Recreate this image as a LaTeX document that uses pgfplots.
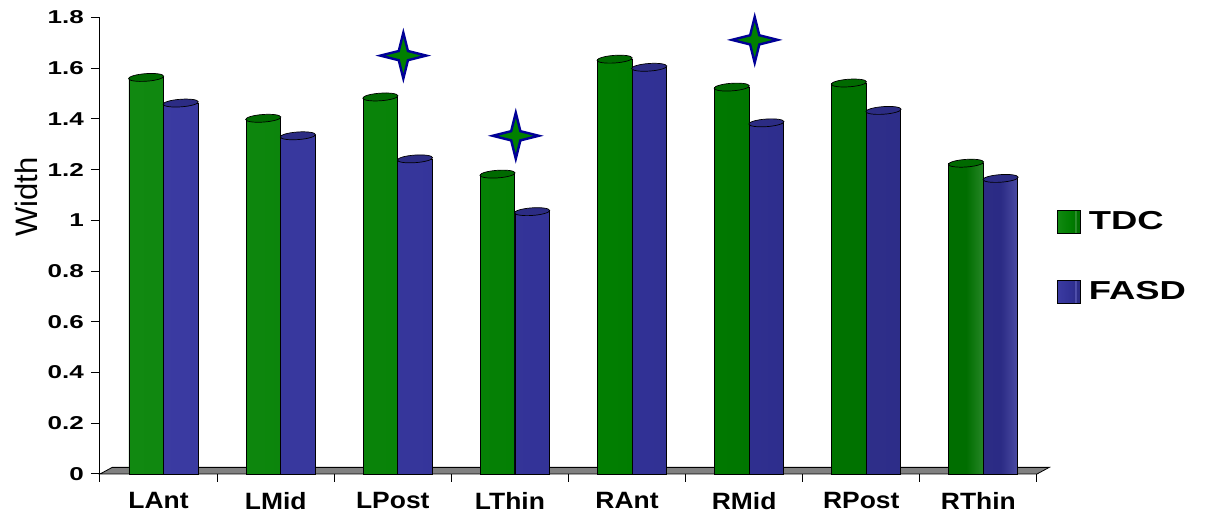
\documentclass[border=0pt]{standalone}
\usepackage{pgfplots}
\pgfplotsset{compat=1.18}
\usepackage{pgfplotstable}
\usepackage{graphicx}
\usepackage{fontspec}
\setmainfont{Liberation Sans}
\usetikzlibrary{shapes.geometric}

\definecolor{tdcgreen}{RGB}{0,128,0}
\definecolor{tdctop}{RGB}{0,106,0}
\definecolor{fasdblue}{RGB}{51,51,153}
\definecolor{fasdtop}{RGB}{44,44,132}
\definecolor{starblue}{RGB}{0,0,150}
\definecolor{floorgray}{RGB}{128,128,128}

% cylinder-like shadings with faint highlight stripes
\pgfdeclarehorizontalshading{cylgreen}{100bp}{%
  rgb(0bp)=(0,0.36,0); rgb(3bp)=(0,0.50,0); rgb(10bp)=(0.1,0.56,0.1);
  rgb(55bp)=(0,0.49,0); rgb(62bp)=(0,0.46,0); rgb(64bp)=(0.35,0.66,0.35);
  rgb(66bp)=(0,0.45,0); rgb(74bp)=(0,0.43,0); rgb(76bp)=(0.3,0.62,0.3);
  rgb(78bp)=(0,0.42,0); rgb(84bp)=(0,0.40,0); rgb(86bp)=(0.25,0.55,0.25);
  rgb(88bp)=(0,0.37,0); rgb(100bp)=(0,0.30,0)}
\pgfdeclarehorizontalshading{cylblue}{100bp}{%
  rgb(0bp)=(0.14,0.14,0.45); rgb(3bp)=(0.22,0.22,0.62); rgb(10bp)=(0.25,0.25,0.66);
  rgb(55bp)=(0.19,0.19,0.58); rgb(62bp)=(0.18,0.18,0.55); rgb(64bp)=(0.45,0.45,0.8);
  rgb(66bp)=(0.18,0.18,0.54); rgb(74bp)=(0.17,0.17,0.52); rgb(76bp)=(0.42,0.42,0.76);
  rgb(78bp)=(0.16,0.16,0.50); rgb(84bp)=(0.15,0.15,0.48); rgb(86bp)=(0.38,0.38,0.7);
  rgb(88bp)=(0.14,0.14,0.45); rgb(100bp)=(0.11,0.11,0.38)}

% four-pointed star used to flag significant differences
\pgfdeclareplotmark{star4}{%
  \pgfpathmoveto{\pgfpoint{0pt}{\pgfplotmarksize}}%
  \pgfpathlineto{\pgfpoint{0.2\pgfplotmarksize}{0.2\pgfplotmarksize}}%
  \pgfpathlineto{\pgfpoint{\pgfplotmarksize}{0pt}}%
  \pgfpathlineto{\pgfpoint{0.2\pgfplotmarksize}{-0.2\pgfplotmarksize}}%
  \pgfpathlineto{\pgfpoint{0pt}{-\pgfplotmarksize}}%
  \pgfpathlineto{\pgfpoint{-0.2\pgfplotmarksize}{-0.2\pgfplotmarksize}}%
  \pgfpathlineto{\pgfpoint{-\pgfplotmarksize}{0pt}}%
  \pgfpathlineto{\pgfpoint{-0.2\pgfplotmarksize}{0.2\pgfplotmarksize}}%
  \pgfpathclose
  \pgfusepathqfillstroke}

\newcommand{\wide}[2]{\scalebox{#1}[1]{#2}}

\pgfplotstableread{
x tdc   fasd
0 1.563 1.462
1 1.402 1.333
2 1.486 1.242
3 1.182 1.034
4 1.635 1.603
5 1.525 1.384
6 1.541 1.433
7 1.225 1.165
}\widthdata

\pgfplotstableread{
x    y
2.09 1.649
3.05 1.333
5.09 1.711
}\stardata

\begin{document}
\begin{tikzpicture}
\useasboundingbox (-50pt,-20pt) rectangle (555.5pt,237pt);
\begin{axis}[
  at={(0pt,0pt)}, anchor=south west, scale only axis,
  width=468.5pt, height=228.35pt,
  xmin=-0.5, xmax=7.5, ymin=0, ymax=1.8,
  clip=false,
  axis x line*=bottom, axis y line*=left,
  axis line style={line width=0.5pt},
  tick align=outside,
  major tick length=4.5pt, minor tick length=3.8pt,
  tick style={black, line width=0.5pt},
  ytick={0,0.2,0.4,0.6,0.8,1,1.2,1.4,1.6,1.8},
  xtick={0,1,2,3,4,5,6,7},
  xticklabels={\wide{1.12}{LAnt},\wide{1.12}{LMid},\wide{1.12}{LPost},\wide{1.12}{LThin},
    \wide{1.12}{RAnt},\wide{1.12}{RMid},\wide{1.12}{RPost},\wide{1.12}{RThin}},
  minor xtick={-0.5,0.5,1.5,2.5,3.5,4.5,5.5,6.5,7.5},
  major x tick style={draw=none},
  /pgf/number format/assume math mode=true,
  yticklabel={\wide{1.4}{\pgfmathprintnumber{\tick}}},
  yticklabel style={font=\bfseries\fontsize{9.3}{11}\selectfont},
  xticklabel style={font=\bfseries\fontsize{11.8}{14}\selectfont, inner sep=0pt, yshift=-4.5pt},
  ylabel={Width},
  every axis y label/.style={at={(axis description cs:-0.078,0.606)}, rotate=90, anchor=center},
  ylabel style={font=\fontsize{15.5}{18}\selectfont},
  legend style={at={(rel axis cs:1.021,0.585)}, anchor=north west,
    draw=none, fill=none, inner sep=0pt,
    font=\bfseries\fontsize{13}{15}\selectfont,
    row sep=20.5pt, /tikz/column sep=2pt},
  legend cell align=left,
]
% grey floor of the chart
\fill[floorgray, draw=black, line width=0.4pt]
  (axis cs:-0.5,0) -- (axis cs:7.5,0)
  -- ([shift={(6.1pt,3.3pt)}]axis cs:7.5,0)
  -- ([shift={(6.1pt,3.3pt)}]axis cs:-0.5,0) -- cycle;

\addplot[ybar, bar width=17.2pt, bar shift=-6.2pt,
  draw=black, line width=0.35pt, shading=cylgreen,
  nodes near coords={},
  every node near coord/.append style={shape=ellipse, draw=black, fill=tdctop,
    line width=0.35pt, minimum width=17.6pt, minimum height=3.8pt,
    inner sep=0pt, anchor=center, xshift=-6.2pt, rotate=4},
  legend image code/.code={\draw[fill=tdcgreen, draw=black, line width=0.4pt] (0pt,-5.75pt) rectangle (11.5pt,5.75pt);}]
  table[x=x, y=tdc] {\widthdata};
\addlegendentry{\wide{1.4}{TDC}}

\addplot[ybar, bar width=17.2pt, bar shift=11.1pt,
  draw=black, line width=0.35pt, shading=cylblue,
  nodes near coords={},
  every node near coord/.append style={shape=ellipse, draw=black, fill=fasdtop,
    line width=0.35pt, minimum width=17.6pt, minimum height=3.8pt,
    inner sep=0pt, anchor=center, xshift=11.1pt, rotate=4},
  legend image code/.code={\draw[fill=fasdblue, draw=black, line width=0.4pt] (0pt,-5.75pt) rectangle (11.5pt,5.75pt);}]
  table[x=x, y=fasd] {\widthdata};
\addlegendentry{\wide{1.4}{FASD}}

% significance stars
\addplot[only marks, mark=star4, mark size=11.5pt, forget plot,
  mark options={fill=tdcgreen, draw=starblue, line width=1.2pt}]
  table[x=x, y=y] {\stardata};
\end{axis}
\end{tikzpicture}
\end{document}
